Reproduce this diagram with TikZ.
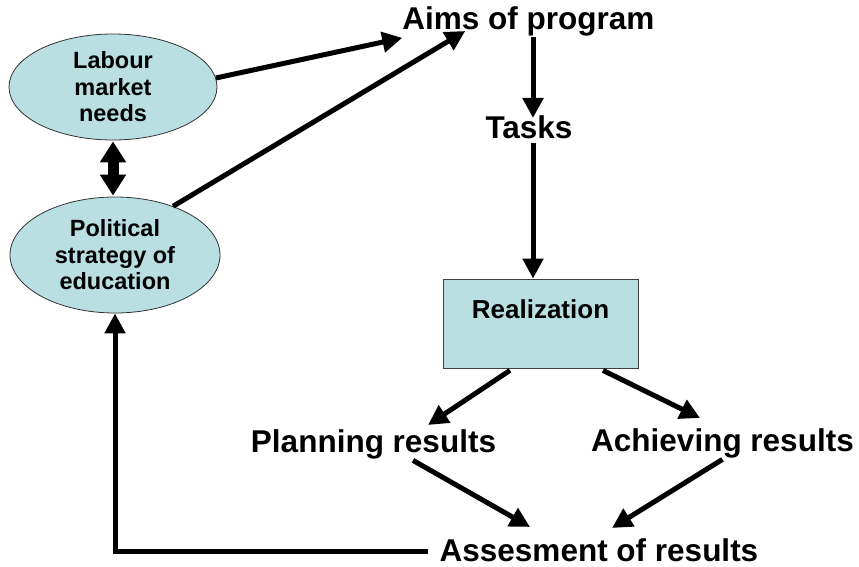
\documentclass[tikz,border=0pt]{standalone}
\usepackage{fontspec}
\setmainfont{Liberation Sans}
\usetikzlibrary{arrows.meta,shapes.geometric,calc}
\definecolor{cfill}{HTML}{BADFE3}
\begin{document}
\begin{tikzpicture}[x=1pt,y=-1pt,
  lbl/.style={font=\fontsize{31.5}{37}\selectfont\bfseries, inner sep=0pt, anchor=base},
  oval/.style={ellipse, draw=black!80, line width=0.8pt, fill=cfill, inner sep=0pt, align=center, font=\fontsize{23.5}{26.5}\selectfont\bfseries},
  boxnode/.style={draw=black!75, line width=0.8pt, fill=cfill, minimum width=195pt, text height=19pt, text depth=30pt, inner ysep=20pt, inner xsep=0pt, font=\fontsize{26}{30}\selectfont\bfseries},
  conn/.style={line width=5pt, -{Triangle[length=20pt,width=20pt]}},
  dbl/.style={line width=11pt, {Triangle[length=21pt,width=25pt]}-{Triangle[length=21pt,width=25pt]}}
]
\useasboundingbox (0,0) rectangle (859,567);

\node[lbl] (aims) at (528.5,30) {Aims of program};
\node[lbl] (tasks) at (529,139) {Tasks};
\node[lbl] (plan) at (373.5,452) {Planning results};
\node[lbl] (ach) at (722.5,451) {Achieving results};
\node[lbl] (ass) at (599,561) {Assesment of results};

\node[boxnode] (real) at (540.5,323.5) {Realization};

\node[oval, minimum width=208pt, minimum height=106pt] (lab) at (113,87) {Labour\\market\\needs};
\node[oval, minimum width=210pt, minimum height=116pt] (pol) at (115,255) {Political\\strategy of\\education};

\draw[conn] (lab.5) -- ([yshift=-1pt]aims.south west);
\draw[conn] (pol.40) -- ([xshift=63pt,yshift=-1pt]aims.base west);
\draw[conn] ([xshift=4.5pt]aims.south) -- ([xshift=4pt,yshift=-2pt]tasks.north);
\draw[conn] ([xshift=4pt,yshift=-3pt]tasks.south) -- ([xshift=-7.5pt]real.north);
\draw[conn] ([xshift=-30.5pt,yshift=-2pt]real.south) -- ([xshift=54.5pt,yshift=4pt]plan.north);
\draw[conn] ([xshift=62.5pt,yshift=-2pt]real.south) -- ([xshift=-22.5pt,yshift=10pt]ach.north);
\draw[conn] ([xshift=39.5pt,yshift=-1.5pt]plan.south) -- ([xshift=-69pt,yshift=11pt]ass.north);
\draw[conn] ([yshift=-1.5pt]ach.south) -- ([xshift=13pt,yshift=10pt]ass.north);
\draw[conn] ([xshift=-11pt,yshift=-1.5pt]ass.west) -| (pol.south);
\draw[dbl] ([yshift=-1pt]lab.south) -- ([yshift=1pt]lab.south |- pol.north);
\end{tikzpicture}
\end{document}
